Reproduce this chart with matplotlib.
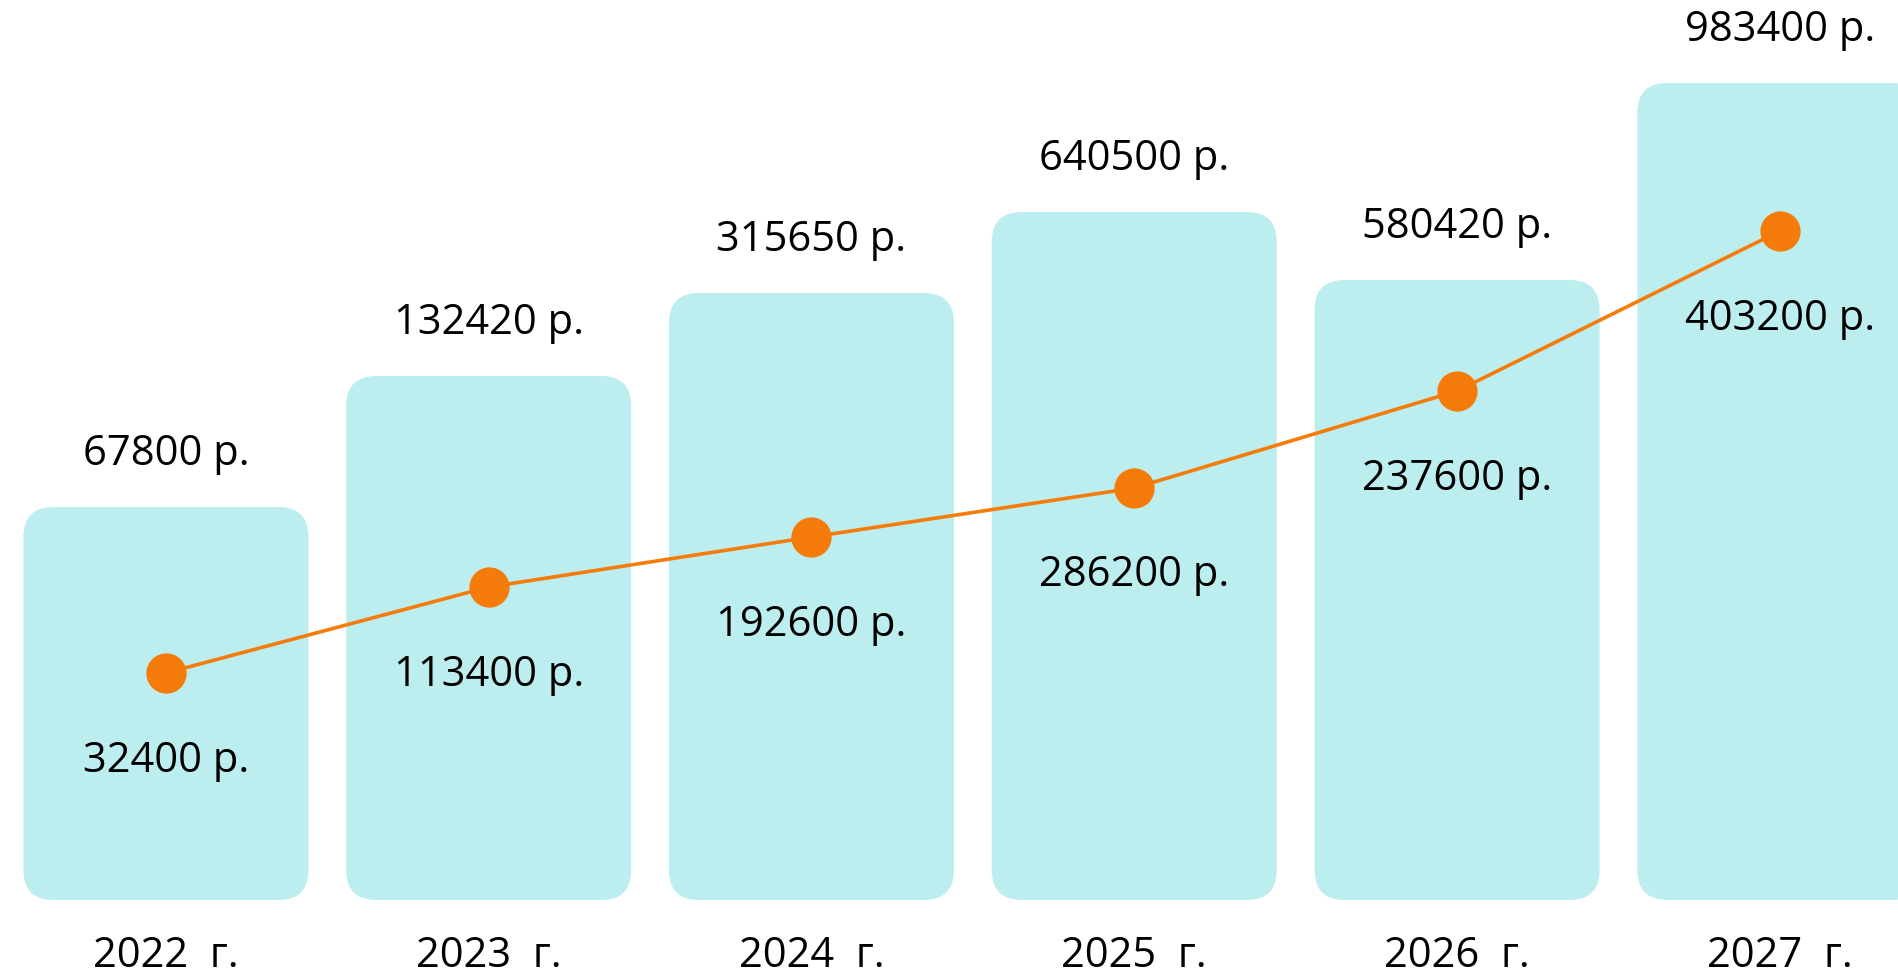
import matplotlib
matplotlib.use('Agg')
import matplotlib.pyplot as plt
from matplotlib.patches import FancyBboxPatch

plt.rcParams['font.family'] = ['Open Sans', 'DejaVu Sans']

# data (bar / line levels are the drawn heights, labels are the printed sums)
years = ['2022  г.', '2023  г.', '2024  г.', '2025  г.', '2026  г.', '2027  г.']
bar_levels = [393, 524, 607, 688, 620, 817]
bar_labels = ['67800 р.', '132420 р.', '315650 р.', '640500 р.', '580420 р.', '983400 р.']
line_levels = [227, 313, 363, 412, 509, 669]
line_labels = ['32400 р.', '113400 р.', '192600 р.', '286200 р.', '237600 р.', '403200 р.']

bar_color = '#BCEEEF'
line_color = '#F57C0A'

W, H = 1898, 975
fig = plt.figure(figsize=(W / 100, H / 100), dpi=100)
ax = fig.add_axes([0, 0, 1, 1])
ax.set_xlim(-0.514, 5.366)
ax.set_ylim(-75, 900)
ax.axis('off')

# pixels per data unit, to keep round corners circular
px_x = W / (5.366 + 0.514)
px_y = H / 975
aspect = px_x / px_y

width = 0.883
radius = 30 / px_x
for i, h in enumerate(bar_levels):
    patch = FancyBboxPatch((i - width / 2, 0), width, h,
                           boxstyle=f'round,pad=0,rounding_size={radius}',
                           mutation_aspect=aspect,
                           facecolor=bar_color, edgecolor='none', zorder=1)
    ax.add_patch(patch)
    ax.annotate(bar_labels[i], (i, h), xytext=(0, 38), textcoords='offset points',
                ha='center', va='center', fontsize=30, color='black')
    ax.text(i, -56, years[i], ha='center', va='center', fontsize=30, color='black')

xs = list(range(len(line_levels)))
ax.plot(xs, line_levels, color=line_color, lw=2.6, marker='o', markersize=29,
        markeredgewidth=0, zorder=3)
for i, v in enumerate(line_levels):
    ax.annotate(line_labels[i], (i, v), xytext=(0, -63), textcoords='offset points',
                ha='center', va='center', fontsize=30, color='black')

fig.savefig('out.png', dpi=100)
